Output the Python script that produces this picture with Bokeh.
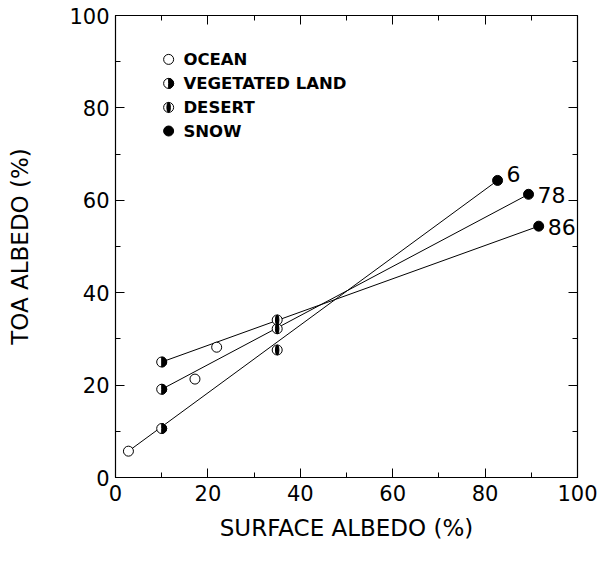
from bokeh.plotting import figure
from bokeh.models import LinearAxis, Range1d, FixedTicker
from bokeh.core.properties import value
from bokeh.embed import file_html
from bokeh.resources import INLINE

# Surface albedo (%) vs top-of-atmosphere albedo (%) for each surface type
ocean_x = [2.8, 17.2, 21.9]
ocean_y = [5.7, 21.3, 28.2]
veg_x = [10.0, 10.0, 10.0]
veg_y = [10.6, 19.1, 25.0]
desert_x = [35.0, 35.0, 35.0]
desert_y = [27.6, 32.2, 34.1]
snow_x = [82.7, 89.4, 91.6]
snow_y = [64.3, 61.3, 54.4]
curve_labels = ["6", "78", "86"]

legend_names = ["OCEAN", "VEGETATED LAND", "DESERT", "SNOW"]
ticks = [0, 20, 40, 60, 80, 100]
minor = [10, 30, 50, 70, 90]

FONT = "DejaVu Sans"
MARK = 10

p = figure(width=604, height=562, output_backend="svg", toolbar_location=None,
           x_range=Range1d(0, 100), y_range=Range1d(0, 100),
           min_border_left=115, min_border_right=27,
           min_border_top=15, min_border_bottom=85)
p.background_fill_color = "white"
p.border_fill_color = "white"
p.outline_line_color = "black"
p.outline_line_width = 1.2
p.xgrid.visible = False
p.ygrid.visible = False

# each curve: straight line from its lowest surface albedo point to the snow point
for i in range(3):
    pts = sorted([(ocean_x[i], ocean_y[i]), (veg_x[i], veg_y[i]),
                  (desert_x[i], desert_y[i]), (snow_x[i], snow_y[i])])
    start, end = pts[0], pts[-1]
    p.line([start[0], end[0]], [start[1], end[1]], line_color="black", line_width=1)


def ocean_marker(xs, ys):
    p.scatter(xs, ys, marker="circle", size=MARK, fill_color="white",
              line_color="black", line_width=1)


def veg_marker(xs, ys):
    p.scatter(xs, ys, marker="circle", size=MARK, fill_color="white",
              line_color="black", line_width=1)
    p.wedge(xs, ys, radius=MARK / 2, radius_units="screen",
            start_angle=-1.5708, end_angle=1.5708,
            fill_color="black", line_color="black")


def desert_marker(xs, ys):
    p.scatter(xs, ys, marker="circle", size=MARK, fill_color="white",
              line_color="black", line_width=1)
    p.ellipse(xs, ys, width=3.5, height=MARK, width_units="screen",
              height_units="screen", fill_color="black", line_color="black")


def snow_marker(xs, ys):
    p.scatter(xs, ys, marker="circle", size=MARK, fill_color="black",
              line_color="black")


ocean_marker(ocean_x, ocean_y)
veg_marker(veg_x, veg_y)
desert_marker(desert_x, desert_y)
snow_marker(snow_x, snow_y)

# curve labels beside the snow points
p.text(snow_x, snow_y, text=curve_labels, x_offset=9, y_offset=[-6, 1, 1],
       text_font=value(FONT), text_font_size="22px", text_baseline="middle",
       text_align="left", text_color="black")

# legend
leg_x = 11.5
leg_y = [90.5, 85.3, 80.1, 75.0]
ocean_marker([leg_x], [leg_y[0]])
veg_marker([leg_x], [leg_y[1]])
desert_marker([leg_x], [leg_y[2]])
snow_marker([leg_x], [leg_y[3]])
p.text([leg_x + 3.2] * 4, leg_y, text=legend_names, text_font=value(FONT),
       text_font_size="16.5px", text_font_style="bold", text_baseline="middle",
       text_align="left", text_color="black")

# axes: inward ticks on all four sides
for ax in (p.xaxis[0], p.yaxis[0]):
    ax.ticker = FixedTicker(ticks=ticks, minor_ticks=minor)
    ax.major_tick_in = 9
    ax.major_tick_out = 0
    ax.minor_tick_in = 5
    ax.minor_tick_out = 0
    ax.axis_line_color = "black"
    ax.major_tick_line_color = "black"
    ax.minor_tick_line_color = "black"
    ax.major_label_text_font = FONT
    ax.major_label_text_font_size = "21px"
    ax.major_label_text_color = "black"
    ax.axis_label_text_font = FONT
    ax.axis_label_text_font_size = "23px"
    ax.axis_label_text_font_style = "normal"
    ax.axis_label_text_color = "black"

p.xaxis.axis_label = "SURFACE ALBEDO (%)"
p.yaxis.axis_label = "TOA ALBEDO (%)"
p.xaxis.major_label_standoff = 7
p.yaxis.major_label_standoff = 6
p.xaxis.axis_label_standoff = 11
p.yaxis.axis_label_standoff = 33

for loc in ("right", "above"):
    ax = LinearAxis(ticker=FixedTicker(ticks=ticks, minor_ticks=minor),
                    major_tick_in=9, major_tick_out=0, minor_tick_in=5, minor_tick_out=0,
                    major_label_text_font_size="0px", major_label_text_color=None,
                    axis_line_color="black")
    p.add_layout(ax, loc)

open("out.html", "w").write(file_html(p, INLINE))
